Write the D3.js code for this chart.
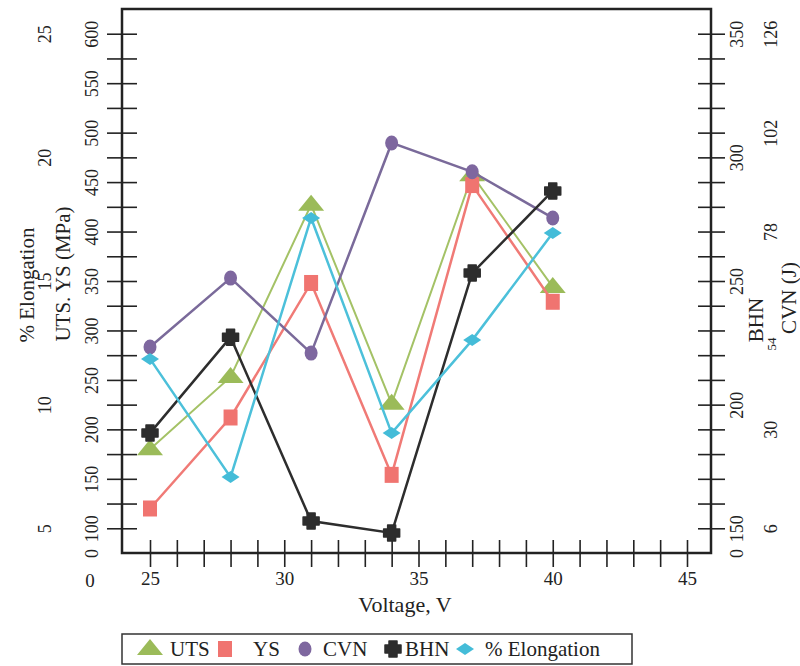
<!DOCTYPE html>
<html>
<head>
<meta charset="utf-8">
<script src="https://cdn.jsdelivr.net/npm/d3@7"></script>
<style>
  body { margin: 0; background: #fff; }
  text { font-family: "Liberation Serif", "Times New Roman", serif; fill: #222; }
</style>
</head>
<body>
<div id="chart"></div>
<script>
// values
const voltage = [25, 28, 31, 34, 37, 40];
const uts = [180, 253, 427, 226, 457, 344];
const ys = [120, 212, 348, 154, 447, 329];
const cvn = [50.0, 66.7, 48.5, 99.5, 92.5, 81.3];
const bhn = [188.5, 227.3, 152.9, 148.1, 253.2, 286.4];
const elongation = [11.85, 7.07, 17.55, 8.85, 12.61, 16.94];

// tick labels
const xTickValues = [25, 30, 35, 40, 45];
const mpaTickValues = [75, 100, 150, 200, 250, 300, 350, 400, 450, 500, 550, 600];
const mpaTickLabels = ["0", "100", "150", "200", "250", "300", "350", "400", "450", "500", "550", "600"];
const elongTickValues = [5, 10, 15, 20, 25];
const bhnTickValues = [140, 150, 200, 250, 300, 350];
const bhnTickLabels = ["0", "150", "200", "250", "300", "350"];
const cvnTickValues = [6, 30, 54, 78, 102, 126];

const width = 800;
const height = 666;
const plotLeft = 122, plotRight = 711, plotTop = 9, plotBottom = 553;

const svg = d3
  .select("#chart")
  .append("svg")
  .attr("width", width)
  .attr("height", height);

svg.append("rect").attr("width", width).attr("height", height).attr("fill", "#fff");

// scales (one per vertical axis)
const x = d3.scaleLinear().domain([23.957, 45.894]).range([plotLeft, plotRight]);
const yMpa = d3.scaleLinear().domain([75, 625]).range([plotBottom, plotTop]);
const yBhn = d3.scaleLinear().domain([140, 360]).range([plotBottom, plotTop]);
const yCvn = d3.scaleLinear().domain([0, 132]).range([plotBottom, plotTop]);
const yEl = d3.scaleLinear().domain([4, 26]).range([plotBottom, plotTop]);

// tick marks crossing the frame
svg.append("g")
  .attr("transform", `translate(${plotLeft},0)`)
  .call(d3.axisLeft(yMpa).tickValues(d3.range(100, 601, 25)).tickSize(15).tickFormat(""))
  .call((g) => g.select(".domain").remove())
  .call((g) => g.selectAll(".tick line").attr("x1", 15).attr("stroke", "#222").attr("stroke-width", 1.6));

svg.append("g")
  .attr("transform", `translate(${plotRight},0)`)
  .call(d3.axisRight(yBhn).tickValues(d3.range(150, 351, 10)).tickSize(14).tickFormat(""))
  .call((g) => g.select(".domain").remove())
  .call((g) => g.selectAll(".tick line").attr("x1", -13).attr("stroke", "#222").attr("stroke-width", 1.6));

svg.append("g")
  .attr("transform", `translate(0,${plotBottom})`)
  .call(d3.axisBottom(x).tickValues(d3.range(25, 46, 1)).tickSize(14).tickFormat(""))
  .call((g) => g.select(".domain").remove())
  .call((g) => g.selectAll(".tick line").attr("y1", -13).attr("stroke", "#222").attr("stroke-width", 1.6));

// frame
svg.append("rect")
  .attr("x", plotLeft).attr("y", plotTop)
  .attr("width", plotRight - plotLeft).attr("height", plotBottom - plotTop)
  .attr("fill", "none").attr("stroke", "#222").attr("stroke-width", 2.5);

// rotated label axes
function rotatedLabels(g, fontSize) {
  g.select(".domain").remove();
  g.selectAll(".tick line").remove();
  g.selectAll(".tick text")
    .attr("x", 0).attr("y", 0).attr("dy", null)
    .attr("transform", "rotate(-90)")
    .attr("text-anchor", "middle")
    .attr("dominant-baseline", "central")
    .style("font-size", fontSize + "px")
    .attr("fill", "#222");
}

svg.append("g")
  .attr("transform", "translate(92,0)")
  .call(d3.axisLeft(yMpa).tickValues(mpaTickValues).tickSize(0).tickFormat((d, i) => mpaTickLabels[i]))
  .call((g) => rotatedLabels(g, 18));

svg.append("g")
  .attr("transform", "translate(45,0)")
  .call(d3.axisLeft(yEl).tickValues(elongTickValues).tickSize(0))
  .call((g) => rotatedLabels(g, 18));

svg.append("g")
  .attr("transform", "translate(737,0)")
  .call(d3.axisRight(yBhn).tickValues(bhnTickValues).tickSize(0).tickFormat((d, i) => bhnTickLabels[i]))
  .call((g) => rotatedLabels(g, 18));

svg.append("g")
  .attr("transform", "translate(771,0)")
  .call(d3.axisRight(yCvn).tickValues(cvnTickValues).tickSize(0))
  .call((g) => rotatedLabels(g, 18))
  .call((g) => g.selectAll(".tick text").filter((d) => d === 54)
    .style("font-size", "13px").attr("x", -13));

// x labels
svg.append("g")
  .attr("transform", `translate(0,${plotBottom})`)
  .call(d3.axisBottom(x).tickValues(xTickValues).tickSize(0).tickPadding(19))
  .call((g) => g.select(".domain").remove())
  .call((g) => g.selectAll(".tick text").style("font-size", "19px").attr("fill", "#222"));

svg.append("text")
  .attr("x", 90).attr("y", 587)
  .attr("text-anchor", "middle")
  .style("font-size", "19px")
  .text("0");

// axis titles
svg.append("text")
  .attr("x", 405).attr("y", 612)
  .attr("text-anchor", "middle")
  .style("font-size", "22px")
  .text("Voltage, V");

const titles = [
  { text: "% Elongation", x: 27, y: 285 },
  { text: "UTS. YS (MPa)", x: 63, y: 274 },
  { text: "BHN", x: 756, y: 320 },
  { text: "CVN (J)", x: 789, y: 298 },
];
titles.forEach((t) => {
  svg.append("text")
    .attr("transform", `translate(${t.x},${t.y}) rotate(-90)`)
    .attr("text-anchor", "middle")
    .attr("dominant-baseline", "central")
    .style("font-size", "21px")
    .text(t.text);
});

// markers
function drawMarker(sel, type, color) {
  if (type === "triangle") {
    sel.append("path").attr("d", "M0,-10L13,6L-13,6Z").attr("fill", color);
  } else if (type === "square") {
    sel.append("rect").attr("x", -7).attr("y", -8).attr("width", 14).attr("height", 16).attr("fill", color);
  } else if (type === "circle") {
    sel.append("ellipse").attr("rx", 6.5).attr("ry", 7.5).attr("fill", color);
  } else if (type === "cross") {
    // fat rounded plus, like the scanned marker
    sel.append("path")
      .attr("d", "M-4,-8L4,-8L4,-4L8,-4L8,4L4,4L4,8L-4,8L-4,4L-8,4L-8,-4L-4,-4Z")
      .attr("fill", color).attr("stroke", color).attr("stroke-width", 1.5).attr("stroke-linejoin", "round");
  } else if (type === "diamond") {
    sel.append("path").attr("d", "M0,-6L9,0L0,6L-9,0Z").attr("fill", color);
  }
}

const series = [
  { name: "UTS", values: uts, y: yMpa, color: "#9bbb59", line: "#a4c266", marker: "triangle", lw: 2 },
  { name: "YS", values: ys, y: yMpa, color: "#f07470", line: "#f07a76", marker: "square", lw: 2.5 },
  { name: "CVN", values: cvn, y: yCvn, color: "#7e679f", line: "#7a6a9a", marker: "circle", lw: 2.5 },
  { name: "BHN", values: bhn, y: yBhn, color: "#2d2d2d", line: "#2d2d2d", marker: "cross", lw: 2.5 },
  { name: "% Elongation", values: elongation, y: yEl, color: "#44bcd8", line: "#4cc0da", marker: "diamond", lw: 2.5 },
];

series.forEach((s) => {
  const pts = voltage.map((v, i) => [x(v), s.y(s.values[i])]);
  svg.append("path")
    .datum(pts)
    .attr("d", d3.line())
    .attr("fill", "none")
    .attr("stroke", s.line)
    .attr("stroke-width", s.lw);
  svg.append("g")
    .selectAll("g")
    .data(pts)
    .enter()
    .append("g")
    .attr("transform", (d) => `translate(${d[0]},${d[1]})`)
    .each(function () { drawMarker(d3.select(this), s.marker, s.color); });
});

// legend
const legend = svg.append("g");
legend.append("rect")
  .attr("x", 122).attr("y", 634).attr("width", 510).attr("height", 30)
  .attr("fill", "#fff").attr("stroke", "#333").attr("stroke-width", 1.5);

const legendMarkerX = [150, 225, 305, 393, 465];
const legendTextX = [170, 253, 323, 405, 485];
series.forEach((s, i) => {
  const g = legend.append("g").attr("transform", `translate(${legendMarkerX[i]},649)`);
  drawMarker(g, s.marker, s.color);
  legend.append("text")
    .attr("x", legendTextX[i]).attr("y", 649)
    .attr("dominant-baseline", "central")
    .style("font-size", "21px")
    .text(s.name);
});
</script>
</body>
</html>
